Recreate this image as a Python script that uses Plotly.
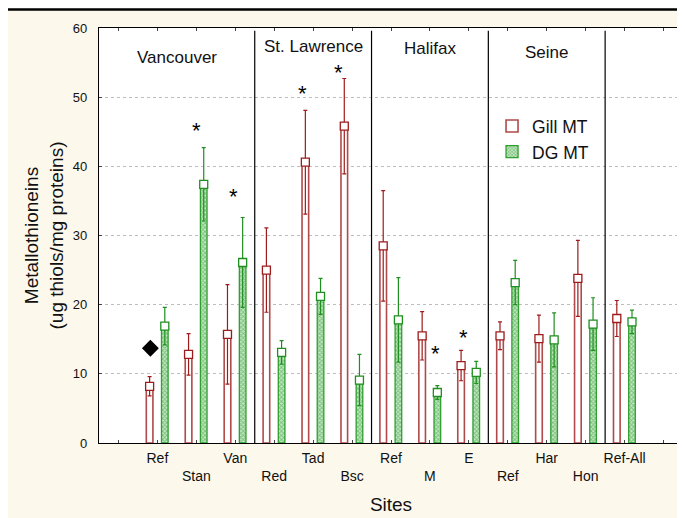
import plotly.graph_objects as go

# ---------------- data ----------------
categories = ["Ref", "Stan", "Van", "Red", "Tad", "Bsc", "Ref", "M", "E",
              "Ref", "Har", "Hon", "Ref-All"]
gill_mean = [8.2, 12.8, 15.7, 25.0, 40.6, 45.8, 28.5, 15.5, 11.2, 15.5, 15.1, 23.8, 18.0]
gill_err = [1.4, 3.0, 7.2, 6.1, 7.5, 6.9, 8.0, 3.5, 2.2, 2.0, 3.4, 5.5, 2.6]
dg_mean = [16.9, 37.4, 26.1, 13.1, 21.2, 9.1, 17.8, 7.3, 10.2, 23.2, 14.9, 17.2, 17.5]
dg_err = [2.7, 5.3, 6.5, 1.7, 2.6, 3.7, 6.1, 1.0, 1.6, 3.2, 3.9, 3.8, 1.7]

regions = ["Vancouver", "St. Lawrence", "Halifax", "Seine", ""]
region_sizes = [3, 3, 3, 3, 1]
region_label_y = [55.7, 57.3, 57.0, 56.4, 0]

# significance asterisks: category index, x offset, y value
star_idx = [2, 3, 5, 6, 8, 9]
star_dx = [0.0, -0.05, -0.28, -0.36, 0.15, -0.13]
star_y = [45.2, 35.7, 50.6, 53.5, 12.9, 15.3]

# diamond marker (Vancouver Ref)
diamond_idx = [1]
diamond_y = [13.7]

# ---------------- layout helpers ----------------
n_slots = len(categories) + 2  # one empty slot at each end
xs = list(range(1, len(categories) + 1))
GILL_OFF = -0.2
DG_OFF = 0.19
BAR_W = 0.17

gill_x = [x + GILL_OFF for x in xs]
dg_x = [x + DG_OFF for x in xs]

RED = "#9e1b1b"
RED_BAR = "#b04a4a"
GREEN = "#1f8f1f"

# page body has an 8px margin: size the figure so the plot lands where it should
W, H = 677, 510
ML, MR, MT, MB = 91, 2, 20, 75
plot_h = H - MT - MB
plot_w = W - ML - MR

fig = go.Figure()

fig.add_trace(go.Bar(
    x=gill_x, y=gill_mean, width=BAR_W, name="Gill MT",
    marker=dict(color="white", line=dict(color=RED_BAR, width=1.6)),
))
fig.add_trace(go.Bar(
    x=dg_x, y=dg_mean, width=BAR_W, name="DG MT",
    marker=dict(color="#8fd08f", line=dict(color="#2f9f2f", width=1.3),
                pattern=dict(shape="x", fgcolor="#2a962a", bgcolor="#c4e8c4",
                             size=3, solidity=0.5)),
))

# means + error bars
fig.add_trace(go.Scatter(
    x=gill_x, y=gill_mean, mode="markers", showlegend=False,
    marker=dict(symbol="square", size=8, color="white", line=dict(color=RED, width=1.3)),
    error_y=dict(type="data", array=gill_err, color=RED, thickness=1.2, width=2),
))
fig.add_trace(go.Scatter(
    x=dg_x, y=dg_mean, mode="markers", showlegend=False,
    marker=dict(symbol="square", size=8, color="white", line=dict(color=GREEN, width=1.3)),
    error_y=dict(type="data", array=dg_err, color=GREEN, thickness=1.2, width=2),
))

# diamond
fig.add_trace(go.Scatter(
    x=[i - 0.18 for i in diamond_idx], y=diamond_y, mode="markers", showlegend=False,
    marker=dict(symbol="diamond", size=13, color="black"),
))

# asterisks
for i, dx, yv in zip(star_idx, star_dx, star_y):
    fig.add_annotation(x=i + dx, y=yv, text="*", showarrow=False,
                       font=dict(size=22, color="black", family="Liberation Sans, Arial"),
                       yanchor="middle")

# region dividers + labels (first region also covers the empty slot 0)
bounds = [-0.5] + [0.5 + sum(region_sizes[:k + 1]) for k in range(len(region_sizes))]
bounds[-1] = n_slots - 0.5
for b in bounds[1:-1]:
    fig.add_shape(type="line", x0=b, x1=b, y0=0, y1=59.6, xref="x", yref="y",
                  line=dict(color="black", width=1.2))
for k, name in enumerate(regions):
    if name:
        fig.add_annotation(x=(bounds[k] + bounds[k + 1]) / 2, y=region_label_y[k],
                           text=name, showarrow=False,
                           font=dict(size=17, color="#111", family="Liberation Sans, Arial"))

# top black rule
rule_y = 1 + (MT - 1.5) / plot_h
fig.add_shape(type="line", xref="paper", yref="paper",
              x0=-ML / plot_w, x1=1 + MR / plot_w, y0=rule_y, y1=rule_y,
              line=dict(color="black", width=2.5), layer="above")

# tick labels alternating rows
tickvals = list(range(n_slots))
ticktext = [""] + [c if k % 2 == 0 else "<br>" + c for k, c in enumerate(categories)] + [""]

fig.update_layout(
    width=W, height=H,
    margin=dict(l=ML, r=MR, t=MT, b=MB, autoexpand=False),
    paper_bgcolor="#fdf8ec",
    plot_bgcolor="white",
    barmode="overlay",
    font=dict(family="Liberation Sans, Arial", color="#111"),
    legend=dict(x=0.673, y=0.807, xanchor="left", yanchor="top",
                bgcolor="rgba(0,0,0,0)", font=dict(size=17.5), tracegroupgap=2,
                itemwidth=30),
    xaxis=dict(range=[-0.5, n_slots - 0.5], tickmode="array", tickvals=tickvals,
               ticktext=ticktext, ticks="inside", ticklen=3, tickcolor="#444",
               showline=True, linecolor="black", linewidth=1.2, mirror="ticks",
               showgrid=False, zeroline=False, tickfont=dict(size=14),
               ticklabelstandoff=2,
               title=dict(text="Sites", font=dict(size=19), standoff=14)),
    yaxis=dict(range=[0, 60], dtick=10, ticks="inside", ticklen=3, tickcolor="#444",
               showline=True, linecolor="black", linewidth=1.2, mirror="ticks",
               showgrid=True, gridcolor="#bdbdbd", griddash="dot", gridwidth=1,
               zeroline=False, tickfont=dict(size=13), ticklabelstandoff=8,
               title=dict(text="Metallothioneins<br>(ug thiols/mg proteins)",
                          font=dict(size=19), standoff=4)),
)

fig.write_html("out.html")
